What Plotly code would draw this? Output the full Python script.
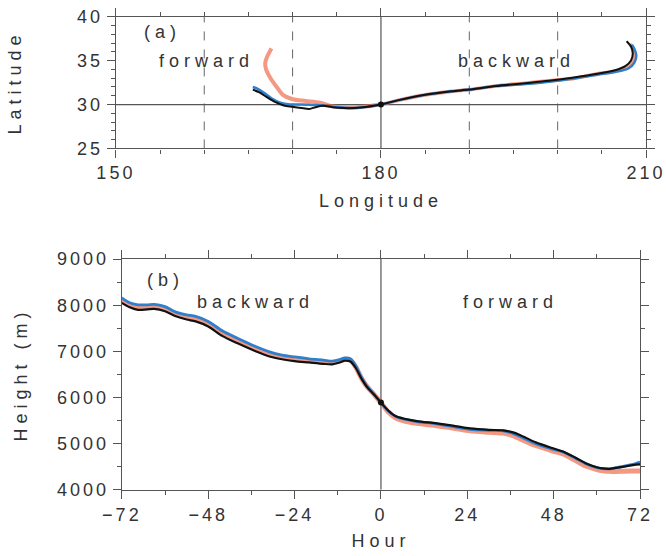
import plotly.graph_objects as go

# ---- Panel (a): trajectory tracks (longitude, latitude) ----
# backward branch (east of the start point)
bwd_lon_black = [180, 182, 185, 188, 190, 193, 196, 199, 202, 204.5, 206.5, 207.7, 208.3, 208.5, 208.3, 207.8]
bwd_lat_black = [30.0, 30.5, 31.1, 31.5, 31.7, 32.1, 32.4, 32.7, 33.1, 33.5, 33.9, 34.4, 35.0, 35.8, 36.6, 37.2]
bwd_lon_blue = [180, 182, 185, 188, 190, 193, 196, 199, 202, 204.5, 206.5, 208.0, 208.7, 208.9, 208.7, 208.4]
bwd_lat_blue = [30.0, 30.5, 31.1, 31.5, 31.7, 32.1, 32.3, 32.6, 33.0, 33.4, 33.7, 34.1, 34.8, 35.6, 36.3, 36.8]
bwd_lon_red = [180, 182, 185, 188, 190, 193, 196, 199, 202, 204.5, 206.5, 207.9, 208.5, 208.7, 208.5, 208.2]
bwd_lat_red = [30.0, 30.5, 31.1, 31.5, 31.7, 32.1, 32.4, 32.7, 33.0, 33.5, 33.8, 34.3, 34.9, 35.7, 36.4, 36.9]

# forward branch (west of the start point)
fwd_lon_black = [180, 178.5, 177, 175.7, 174.5, 173.4, 172.6, 171.9, 171.0, 170.0, 169.0, 168.0, 167.0, 166.2, 165.5]
fwd_lat_black = [30.0, 29.75, 29.6, 29.6, 29.7, 29.85, 29.7, 29.5, 29.6, 29.75, 29.9, 30.3, 30.9, 31.4, 31.7]
fwd_lon_blue = [180, 178.5, 177, 175.7, 174.5, 173.4, 172.2, 171.0, 169.7, 168.6, 167.6, 166.8, 166.0, 165.5]
fwd_lat_blue = [30.0, 29.75, 29.6, 29.65, 29.75, 29.9, 29.95, 30.0, 30.0, 30.2, 30.7, 31.3, 31.8, 32.0]
fwd_lon_red = [180, 178.5, 176.5, 174.5, 173.1, 171.5, 170.0, 168.9, 168.2, 167.5, 167.0, 166.9, 167.1, 167.4, 167.6]
fwd_lat_red = [30.0, 29.8, 29.65, 29.8, 30.2, 30.4, 30.6, 31.1, 32.0, 33.0, 34.0, 34.7, 35.4, 36.0, 36.4]

# ---- Panel (b): trajectory height (m) vs hour ----
hour_bwd = [-72, -70, -67.5, -65, -63, -60, -57, -54, -51.5, -48, -44, -40, -35, -31, -27.5, -24, -20, -16, -13.5, -11.5, -10, -8.5, -7, -5.5, -4, -2, 0]
hgt_bwd_black = [8050, 7960, 7900, 7910, 7920, 7870, 7760, 7690, 7650, 7540, 7330, 7180, 7010, 6890, 6830, 6790, 6760, 6730, 6720, 6760, 6800, 6780, 6640, 6420, 6240, 6070, 5890]
hgt_bwd_blue = [8160, 8060, 8010, 8010, 8020, 7970, 7850, 7790, 7760, 7650, 7440, 7290, 7110, 6990, 6920, 6880, 6840, 6810, 6790, 6820, 6860, 6840, 6690, 6450, 6260, 6080, 5890]
hgt_bwd_red = [8100, 8010, 7950, 7960, 7970, 7920, 7810, 7740, 7700, 7590, 7380, 7230, 7060, 6940, 6870, 6830, 6800, 6770, 6760, 6790, 6830, 6810, 6660, 6430, 6250, 6075, 5890]

hour_fwd = [0, 2, 4, 6.5, 10, 15.5, 20, 24.8, 30, 34, 36.5, 38.6, 43, 47.8, 50.6, 54, 57.1, 60, 61.6, 63.5, 65.3, 68, 70.8, 72]
hgt_fwd_black = [5890, 5720, 5600, 5540, 5490, 5440, 5390, 5330, 5300, 5290, 5250, 5190, 5030, 4900, 4830, 4700, 4570, 4490, 4465, 4455, 4475, 4510, 4545, 4550]
hgt_fwd_blue = [5890, 5715, 5595, 5530, 5480, 5430, 5370, 5310, 5290, 5280, 5230, 5160, 5000, 4880, 4820, 4690, 4560, 4480, 4460, 4455, 4480, 4520, 4570, 4600]
hgt_fwd_red = [5890, 5690, 5560, 5490, 5440, 5390, 5340, 5280, 5250, 5230, 5180, 5110, 4960, 4840, 4780, 4640, 4510, 4440, 4415, 4400, 4400, 4405, 4410, 4410]

# tick labels
lon_ticks = [150, 180, 210]
lat_ticks = [25, 30, 35, 40]
hour_ticks = [-72, -48, -24, 0, 24, 48, 72]
hgt_ticks = [4000, 5000, 6000, 7000, 8000, 9000]

RED = "rgba(240,112,80,0.72)"
BLUE = "#2f7fcc"
BLACK = "#111111"
AXC = "#555555"
TXT = "#333333"
FONT = "Liberation Sans"


def spaced(s, px=3):
    return f'<span style="letter-spacing:{px}px">{s}</span>'


def fmt_num(v):
    return str(v).replace("-", "\u2212")


fig = go.Figure()

# panel (a) tracks
for lon, lat, col, w in [
    (fwd_lon_red, fwd_lat_red, RED, 4.0),
    (bwd_lon_red, bwd_lat_red, RED, 3.6),
    (fwd_lon_blue, fwd_lat_blue, BLUE, 2.5),
    (bwd_lon_blue, bwd_lat_blue, BLUE, 2.5),
    (fwd_lon_black, fwd_lat_black, BLACK, 2.0),
    (bwd_lon_black, bwd_lat_black, BLACK, 2.0),
]:
    fig.add_trace(go.Scatter(x=lon, y=lat, mode="lines", line=dict(color=col, width=w, shape="spline", smoothing=0.8),
                             xaxis="x", yaxis="y", hoverinfo="skip", showlegend=False))
fig.add_trace(go.Scatter(x=[fwd_lon_black[0]], y=[fwd_lat_black[0]], mode="markers",
                         marker=dict(color=BLACK, size=6), xaxis="x", yaxis="y", showlegend=False))

# panel (b) heights
for hx, hy, col, w in [
    (hour_bwd, hgt_bwd_red, RED, 5.0),
    (hour_fwd, hgt_fwd_red, RED, 5.0),
    (hour_bwd, hgt_bwd_blue, BLUE, 2.8),
    (hour_fwd, hgt_fwd_blue, BLUE, 2.8),
    (hour_bwd, hgt_bwd_black, BLACK, 2.2),
    (hour_fwd, hgt_fwd_black, BLACK, 2.2),
]:
    fig.add_trace(go.Scatter(x=hx, y=hy, mode="lines", line=dict(color=col, width=w, shape="spline", smoothing=0.8),
                             xaxis="x2", yaxis="y2", hoverinfo="skip", showlegend=False))
fig.add_trace(go.Scatter(x=[hour_fwd[0]], y=[hgt_fwd_black[0]], mode="markers",
                         marker=dict(color=BLACK, size=6), xaxis="x2", yaxis="y2", showlegend=False))

# reference lines in panel (a)
for xv in [160, 170, 190, 200]:
    fig.add_shape(type="line", xref="x", yref="y", x0=xv, x1=xv, y0=25, y1=40,
                  line=dict(color="#666666", width=1, dash="dash"), layer="below")
fig.add_shape(type="line", xref="x", yref="y", x0=180, x1=180, y0=25, y1=40,
              line=dict(color="#555555", width=1.2), layer="below")
fig.add_shape(type="line", xref="x", yref="y", x0=150, x1=210, y0=30, y1=30,
              line=dict(color="#555555", width=1.2), layer="below")
# reference line in panel (b)
fig.add_shape(type="line", xref="x2", yref="y2", x0=0, x1=0, y0=4000, y1=9000,
              line=dict(color="#555555", width=1.2), layer="below")

tickfont = dict(family=FONT, size=18, color=TXT)
titlefont = dict(family=FONT, size=18, color=TXT)


def axis(domain, rng, tickvals, minor_dtick, anchor, title, standoff):
    return dict(
        domain=domain, range=rng, anchor=anchor, automargin=False,
        tickmode="array", tickvals=tickvals, ticktext=[spaced(fmt_num(v), 3) for v in tickvals],
        ticks="outside", ticklen=8, tickwidth=1.2, tickcolor=AXC,
        minor=dict(dtick=minor_dtick, ticklen=4, tickwidth=1, tickcolor=AXC, ticks="outside"),
        showline=True, linecolor=AXC, linewidth=1.3, mirror="allticks",
        showgrid=False, zeroline=False, tickfont=tickfont,
        title=dict(text=spaced(title, 5), font=titlefont, standoff=standoff),
    )


fig.update_layout(
    template="none",
    width=666, height=556,
    margin=dict(l=0, r=0, t=0, b=0),
    paper_bgcolor="white", plot_bgcolor="white",
    xaxis=axis([0.174, 0.970], [150, 210], lon_ticks, 5, "y", "Longitude", 12),
    yaxis=axis([0.733, 0.970], [25, 40], lat_ticks, 1, "x", "Latitude", 50),
    xaxis2=axis([0.183, 0.961], [-72, 72], hour_ticks, 12, "y2", "Hour", 10),
    yaxis2=axis([0.119, 0.534], [4000, 9000], hgt_ticks, 500, "x2", "Height (m)", 24),
)

annfont = dict(family=FONT, size=18, color=TXT)
for txt, xr, yr, xv, yv in [
    ("(a)", "x", "y", 155.3, 38.2),
    ("forward", "x", "y", 160.3, 35.0),
    ("backward", "x", "y", 195.3, 35.0),
    ("(b)", "x2", "y2", -60, 8550),
    ("backward", "x2", "y2", -35, 8080),
    ("forward", "x2", "y2", 36, 8080),
]:
    fig.add_annotation(x=xv, y=yv, xref=xr, yref=yr, text=spaced(txt, 5), showarrow=False, font=annfont)

fig.write_html("out.html")
